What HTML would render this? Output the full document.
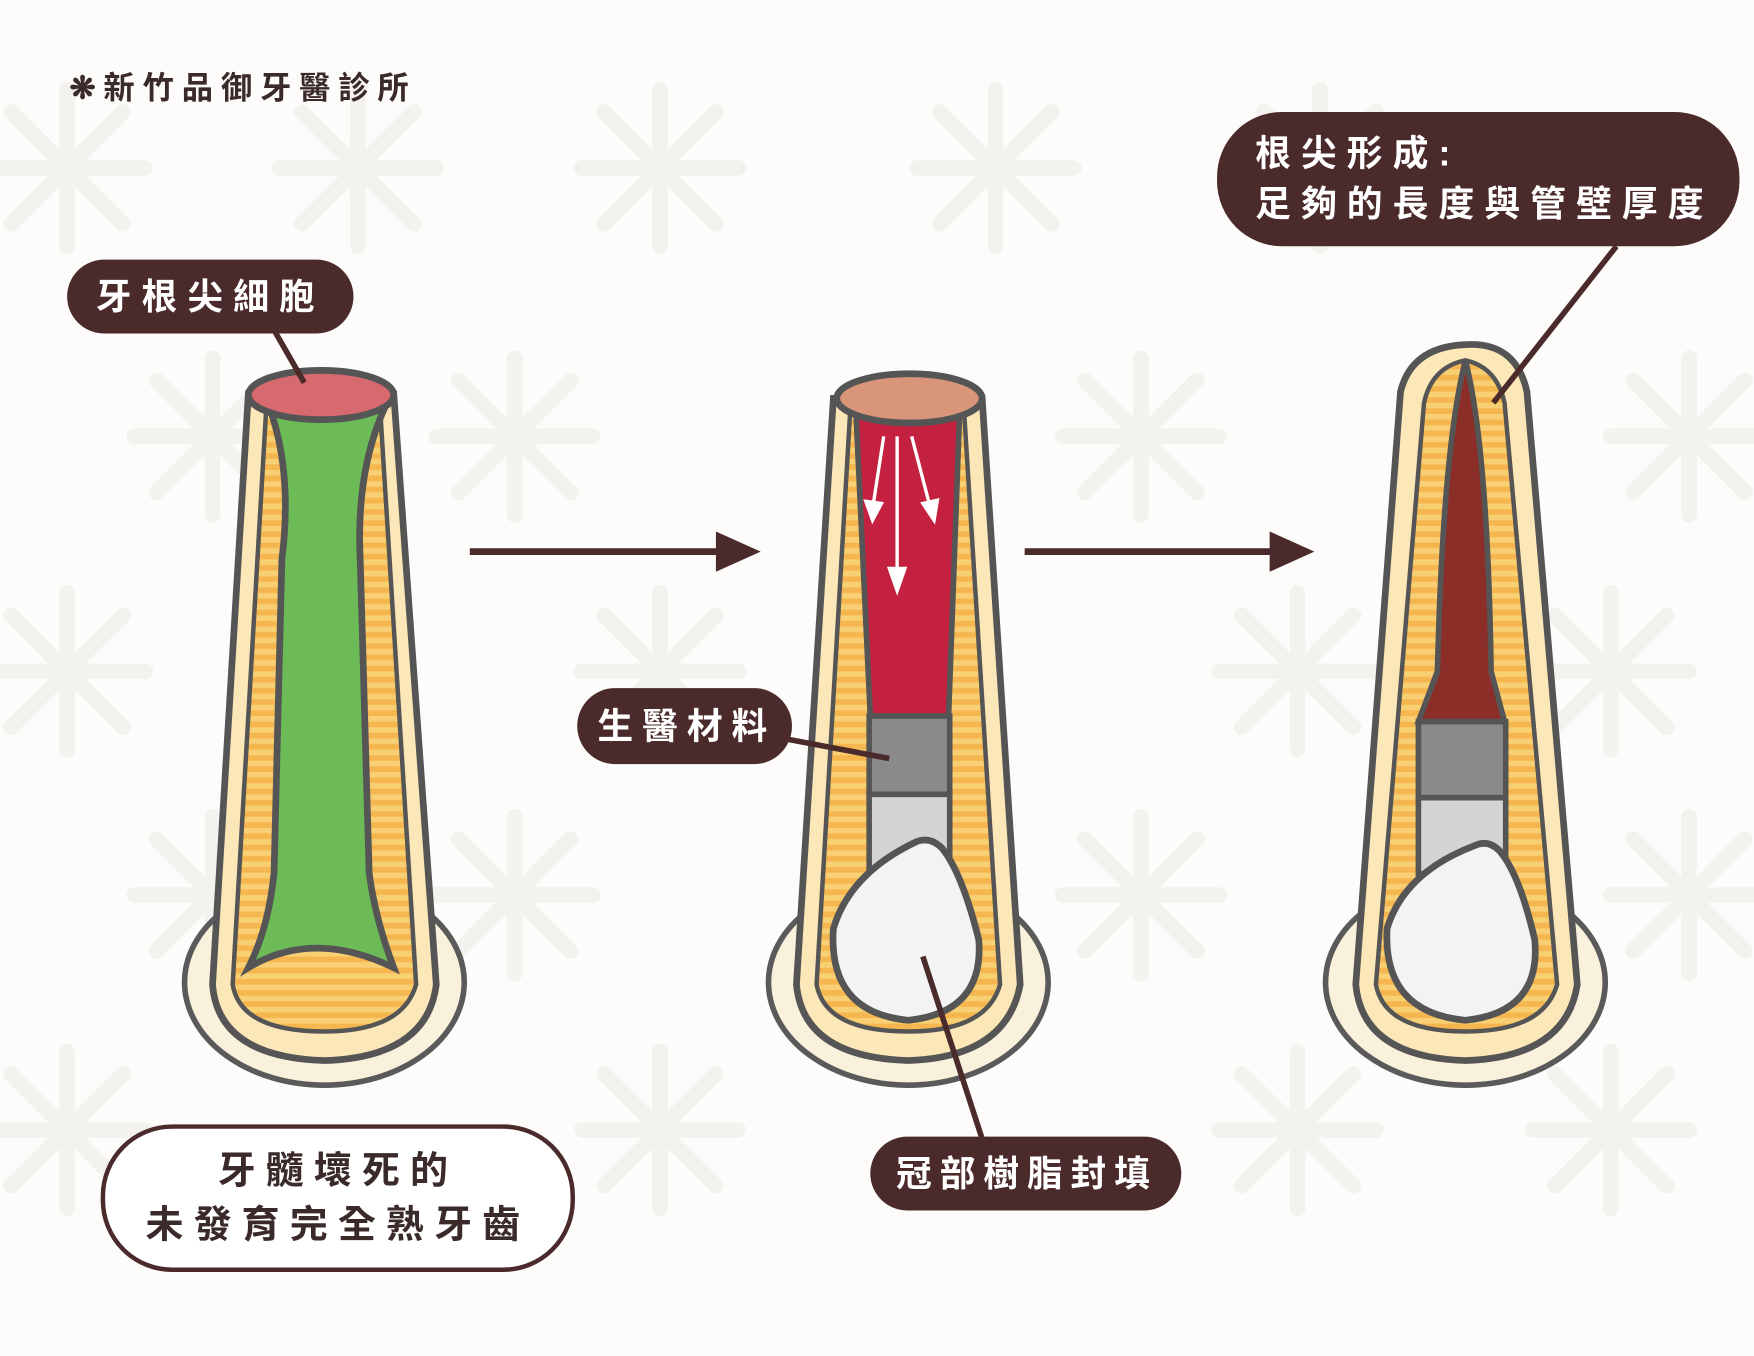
<!DOCTYPE html>
<html><head><meta charset="utf-8">
<style>
html,body{margin:0;padding:0;background:#fdfcfa;}
svg{display:block}
text{font-family:"Liberation Sans","Noto Sans CJK TC",sans-serif;font-weight:bold;}
</style></head>
<body>
<svg width="1754" height="1356" viewBox="0 0 1568 1212" xmlns="http://www.w3.org/2000/svg">
<defs>
<pattern id="st" width="10" height="10" patternUnits="userSpaceOnUse">
<rect width="10" height="10" fill="#f5b650"/>
<rect width="10" height="5" fill="#f8cf72"/>
</pattern>
<g id="wm">
<g stroke="#f4f2ef" stroke-width="14" stroke-linecap="round">
<line x1="-70" y1="0" x2="70" y2="0"/><line x1="0" y1="-70" x2="0" y2="70"/>
<line x1="-50" y1="-50" x2="50" y2="50"/><line x1="-50" y1="50" x2="50" y2="-50"/>
</g></g>
</defs>
<rect width="1568" height="1212" fill="#fdfcfa"/>
<use href="#wm" x="60" y="150"/><use href="#wm" x="320" y="150"/><use href="#wm" x="590" y="150"/><use href="#wm" x="890" y="150"/><use href="#wm" x="1180" y="150"/>
<use href="#wm" x="190" y="390"/><use href="#wm" x="460" y="390"/><use href="#wm" x="1020" y="390"/><use href="#wm" x="1510" y="390"/>
<use href="#wm" x="60" y="600"/><use href="#wm" x="590" y="600"/><use href="#wm" x="1160" y="600"/><use href="#wm" x="1440" y="600"/>
<use href="#wm" x="190" y="800"/><use href="#wm" x="460" y="800"/><use href="#wm" x="1020" y="800"/><use href="#wm" x="1510" y="800"/>
<use href="#wm" x="60" y="1010"/><use href="#wm" x="590" y="1010"/><use href="#wm" x="1160" y="1010"/><use href="#wm" x="1440" y="1010"/>

<text x="62" y="88" font-size="28" fill="#3a2a2a" letter-spacing="7">❋新竹品御牙醫診所</text>

<!-- Tooth 1 -->
<ellipse cx="290" cy="878" rx="125" ry="92" fill="#f9f1dc" stroke="#5a5a5a" stroke-width="5"/>
<path d="M222,352 L352,352 L390,880 Q382,945 290,948 Q195,945 190,880 Z" fill="#fbe7b8" stroke="#555" stroke-width="6"/>
<path d="M238,365 L340,368 L372,880 Q360,922 290,922 Q215,922 208,880 Z" fill="url(#st)" stroke="#555" stroke-width="4"/>
<path d="M240,362 Q262,420 252,500 L245,780 Q240,830 222,865 Q280,830 352,865 Q335,820 330,780 L322,500 Q318,420 345,362 Z" fill="#6dbb57" stroke="#555" stroke-width="6"/>
<ellipse cx="287" cy="353" rx="65" ry="22" fill="#d66a6e" stroke="#555" stroke-width="6"/>

<!-- Tooth 2 -->
<ellipse cx="812" cy="878" rx="125" ry="92" fill="#f9f1dc" stroke="#5a5a5a" stroke-width="5"/>
<path d="M745,356 L878,356 L912,880 Q900,945 812,948 Q718,945 712,880 Z" fill="#fbe7b8" stroke="#555" stroke-width="6"/>
<path d="M760,368 L862,370 L894,880 Q882,922 812,922 Q738,922 730,880 Z" fill="url(#st)" stroke="#555" stroke-width="4"/>
<path d="M765,365 L858,365 L848,640 L778,640 Z" fill="#c42140" stroke="#555" stroke-width="5"/>
<rect x="777" y="640" width="72" height="70" fill="#8a8a8a" stroke="#555" stroke-width="5"/>
<rect x="777" y="710" width="72" height="70" fill="#d4d4d4" stroke="#555" stroke-width="5"/>
<path d="M820,752 Q760,780 745,830 Q740,905 812,912 Q880,905 875,840 Q860,780 842,758 Q832,748 820,752 Z" fill="#f3f3f3" stroke="#555" stroke-width="6"/>
<ellipse cx="813" cy="356" rx="65" ry="22" fill="#d9957a" stroke="#555" stroke-width="6"/>
<g stroke="#fff" stroke-width="3" fill="#fff">
<line x1="790" y1="390" x2="780" y2="455"/><polygon points="774,448 780,465 788,450"/>
<line x1="802" y1="390" x2="802" y2="515"/><polygon points="795,508 802,528 809,508"/>
<line x1="815" y1="390" x2="832" y2="455"/><polygon points="825,450 835,465 838,447"/>
</g>

<!-- Tooth 3 -->
<ellipse cx="1310" cy="878" rx="125" ry="92" fill="#f9f1dc" stroke="#5a5a5a" stroke-width="5"/>
<path d="M1310,308 Q1355,305 1365,350 L1410,880 Q1400,945 1310,948 Q1218,945 1212,880 L1252,350 Q1262,310 1310,308 Z" fill="#fbe7b8" stroke="#555" stroke-width="6"/>
<path d="M1310,322 Q1338,328 1345,360 L1392,880 Q1380,922 1310,922 Q1238,922 1230,880 L1273,360 Q1280,328 1310,322 Z" fill="url(#st)" stroke="#555" stroke-width="4"/>
<path d="M1310,322 Q1330,400 1333,600 L1345,645 L1268,645 L1285,600 Q1290,400 1310,322 Z" fill="#8b2e28" stroke="#555" stroke-width="5"/>
<rect x="1268" y="645" width="78" height="68" fill="#8a8a8a" stroke="#555" stroke-width="5"/>
<rect x="1268" y="713" width="78" height="68" fill="#d4d4d4" stroke="#555" stroke-width="5"/>
<path d="M1318,756 Q1255,780 1240,830 Q1236,905 1310,912 Q1378,905 1372,840 Q1358,780 1340,760 Q1330,750 1318,756 Z" fill="#f3f3f3" stroke="#555" stroke-width="6"/>

<!-- arrows -->
<line x1="420" y1="493" x2="645" y2="493" stroke="#4a2a2a" stroke-width="6"/>
<polygon points="640,475 680,493 640,511" fill="#4a2a2a"/>
<line x1="916" y1="493" x2="1140" y2="493" stroke="#4a2a2a" stroke-width="6"/>
<polygon points="1135,475 1175,493 1135,511" fill="#4a2a2a"/>

<!-- leader lines -->
<g stroke="#4a2a2a" stroke-width="5">
<line x1="245" y1="295" x2="272" y2="342"/>
<line x1="700" y1="660" x2="795" y2="678"/>
<line x1="825" y1="855" x2="878" y2="1018"/>
<line x1="1445" y1="220" x2="1335" y2="360"/>
</g>

<!-- labels -->
<rect x="60" y="232" width="256" height="66" rx="33" fill="#4a2a2a"/>
<text x="188" y="276" font-size="32" fill="#fff" text-anchor="middle" letter-spacing="9">牙根尖細胞</text>
<rect x="516" y="615" width="192" height="68" rx="34" fill="#4a2a2a"/>
<text x="614" y="660" font-size="32" fill="#fff" text-anchor="middle" letter-spacing="8">生醫材料</text>
<rect x="778" y="1016" width="278" height="66" rx="33" fill="#4a2a2a"/>
<text x="918" y="1060" font-size="32" fill="#fff" text-anchor="middle" letter-spacing="7">冠部樹脂封填</text>
<rect x="1088" y="100" width="467" height="120" rx="58" fill="#4a2a2a"/>
<text x="1122" y="148" font-size="32" fill="#fff" letter-spacing="9">根尖形成:</text>
<text x="1122" y="193" font-size="32" fill="#fff" letter-spacing="9">足夠的長度與管壁厚度</text>
<rect x="92" y="1007" width="420" height="128" rx="62" fill="#fff" stroke="#4a2a2a" stroke-width="4"/>
<text x="302" y="1058" font-size="34" fill="#3a2a2a" text-anchor="middle" letter-spacing="9">牙髓壞死的</text>
<text x="302" y="1106" font-size="34" fill="#3a2a2a" text-anchor="middle" letter-spacing="9">未發育完全熟牙齒</text>
</svg>
</body></html>
